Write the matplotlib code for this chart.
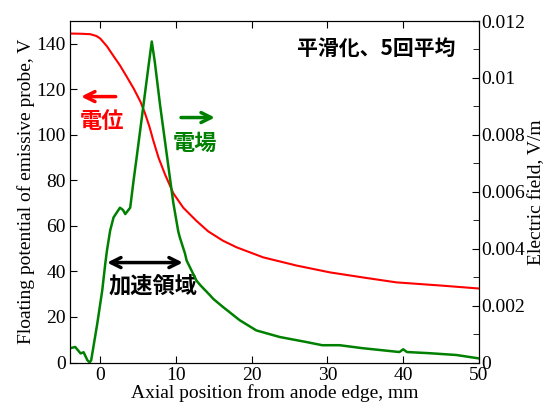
import numpy as np
import matplotlib.pyplot as plt

# floating potential (left axis, V)
pot_x = [-4, -2.5, -1.3, -0.5, 0.0, 0.88, 1.75, 2.6, 3.5, 4.4, 5.3, 5.9, 6.5, 7.0, 7.7, 8.55,
         9.65, 10.96, 12.7, 14.25, 16.2, 18.0, 21.5, 25.9, 30.3, 35, 39.1, 45, 50]
pot_v = [144.5, 144.4, 144.2, 143.4, 142.3, 138.9, 134.6, 130.5, 125.5, 120.4, 114.6, 109.5,
         103.5, 97.5, 89.9, 82.6, 74.3, 68, 62.2, 57.6, 53.5, 50.6, 46.2, 42.6, 39.6, 37.2,
         35.2, 33.8, 32.5]

# electric field (right axis, V/m)
fld_x = [-4, -3.3, -2.6, -2.2, -1.7, -1.4, -1.2, -0.4, 0.26, 0.66, 0.88, 1.3, 1.75, 2.2,
         2.6, 3.0, 3.3, 3.95, 4.4, 4.8, 5.7, 6.4, 6.8, 7.2, 7.9, 8.55, 9.2, 9.65, 10.3,
         10.5, 11.2, 11.4, 12.7, 13.2, 14.5, 14.9, 16.2, 18.4, 20.6, 23.7, 27.2, 29.3, 31.6,
         34.6, 39.5, 40.0, 40.5, 43.4, 47, 50]
fld_v = np.array([6.3, 6.8, 4.0, 4.5, 1.0, 0.0, 1.0, 17, 31.7, 43.4, 49.1, 57.9, 63.7, 66,
                  68, 67, 65.2, 68, 80, 90, 113, 131, 141, 132, 113, 97, 81, 70,
                  57.5, 55, 47.7, 44.8, 36, 34, 29.5, 28, 24.4, 18.6, 14.1, 11.2, 9.0, 7.6,
                  7.6, 6.3, 4.6, 5.8, 4.6, 4.1, 3.3, 1.8]) / 12500

plt.rcParams['font.family'] = ['Liberation Serif', 'DejaVu Serif']
jp = ['Noto Sans CJK JP', 'DejaVu Sans']

fig = plt.figure(figsize=(5.48, 4.08), dpi=100)
ax = fig.add_axes([0.1277, 0.1115, 0.7463, 0.837])
ax2 = ax.twinx()

ax.plot(pot_x, pot_v, color='red', lw=1.5)
ax2.plot(fld_x, fld_v, color='green', lw=1.8)

ax.set_xlim(-4, 50)
ax.set_ylim(0, 150)
ax2.set_ylim(0, 0.012)
ax.set_xticks([0, 10, 20, 30, 40, 50])
ax.set_yticks(range(0, 141, 20))
ax2.set_yticks([0, 0.002, 0.004, 0.006, 0.008, 0.01, 0.012])
ax2.set_yticklabels(['0', '0.002', '0.004', '0.006', '0.008', '0.01', '0.012'])
ax2.set_yticks(np.arange(0.001, 0.012, 0.002), minor=True)

ax.tick_params(axis='both', direction='in', labelsize=14, top=True, length=5, pad=3)
ax.tick_params(axis='y', right=False)
ax2.tick_params(axis='y', direction='in', labelsize=14, length=5, pad=2)
ax2.tick_params(axis='y', which='minor', direction='in', length=4)

ax.set_xlabel('Axial position from anode edge, mm', fontsize=14, labelpad=0)
ax.set_ylabel('Floating potential of emissive probe, V', fontsize=14, labelpad=1)
ax2.set_ylabel('Electric field, V/m', fontsize=14, labelpad=2)

ax.text(36.4, 137.8, '平滑化、5回平均', family=jp, weight='bold', fontsize=15,
        ha='center', va='center')
ax.text(0.2, 105.9, '電位', family=jp, weight='bold', fontsize=16, color='red',
        ha='center', va='center')
ax.text(12.5, 96.3, '電場', family=jp, weight='bold', fontsize=16, color='green',
        ha='center', va='center')
ax.text(7.0, 33.4, '加速領域', family=jp, weight='bold', fontsize=16,
        ha='center', va='center')

ax.annotate('', xy=(-2.9, 116.8), xytext=(2.4, 116.8),
            arrowprops=dict(arrowstyle='->', color='red', lw=2.5, mutation_scale=18))
ax.annotate('', xy=(15.5, 107.6), xytext=(10.3, 107.6),
            arrowprops=dict(arrowstyle='->', color='green', lw=2.5, mutation_scale=18))
ax.annotate('', xy=(0.9, 43.9), xytext=(10.9, 43.9),
            arrowprops=dict(arrowstyle='<->', color='black', lw=2.5, mutation_scale=18,
                            shrinkA=0, shrinkB=0))

fig.savefig('out.png', dpi=100)
